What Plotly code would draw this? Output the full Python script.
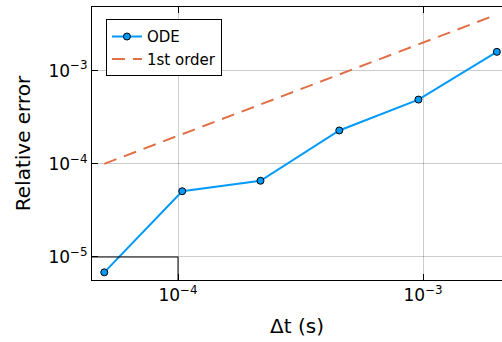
import plotly.graph_objects as go

# Data
dt = [5.0e-5, 1.04e-4, 2.17e-4, 4.55e-4, 9.57e-4, 2.0e-3]
ode_err = [6.84e-6, 5.08e-5, 6.58e-5, 2.28e-4, 4.89e-4, 1.59e-3]
first_order = [1.0e-4, 2.08e-4, 4.34e-4, 9.1e-4, 1.914e-3, 4.0e-3]

x_tickvals = [1e-4, 1e-3]
x_ticktext = ["10<sup>−4</sup>", "10<sup>−3</sup>"]
y_tickvals = [1e-5, 1e-4, 1e-3]
y_ticktext = ["10<sup>−5</sup>", "10<sup>−4</sup>", "10<sup>−3</sup>"]

x_range = [-4.351, -2.678]
y_range = [-5.247, -2.317]

FONT = "DejaVu Sans"

fig = go.Figure()
fig.add_trace(go.Scatter(
    x=dt, y=ode_err, mode="lines+markers", name="ODE",
    line=dict(color="#009AFA", width=2),
    marker=dict(size=7, color="#009AFA", line=dict(color="black", width=1)),
))
fig.add_trace(go.Scatter(
    x=dt, y=first_order, mode="lines", name="1st order",
    line=dict(color="#E26F46", width=2, dash="13px,8px"),
))

grid_col = "rgba(0,0,0,0.2)"
fig.update_xaxes(
    type="log", range=x_range, tickvals=x_tickvals, ticktext=x_ticktext,
    showgrid=True, gridcolor=grid_col, gridwidth=1,
    showline=True, linecolor="black", linewidth=1, mirror="ticks",
    ticks="inside", ticklen=6, tickcolor="black",
    tickfont=dict(family=FONT, size=17, color="black"),
    title=dict(text="Δt (s)", font=dict(family=FONT, size=20, color="black"), standoff=14),
    zeroline=False,
)
fig.update_yaxes(
    type="log", range=y_range, tickvals=y_tickvals, ticktext=y_ticktext,
    showgrid=True, gridcolor=grid_col, gridwidth=1,
    showline=True, linecolor="black", linewidth=1, mirror=False,
    ticks="inside", ticklen=6, tickcolor="black",
    tickfont=dict(family=FONT, size=17, color="black"),
    title=dict(text="Relative error", font=dict(family=FONT, size=20, color="black"), standoff=12),
    zeroline=False,
)

# dark segments along the 1e-5 / 1e-4 grid lines near the lower-left corner
fx = (-4 - x_range[0]) / (x_range[1] - x_range[0])
fy = (-5 - y_range[0]) / (y_range[1] - y_range[0])
fig.add_shape(type="line", xref="x domain", yref="y domain", x0=0, x1=fx, y0=fy, y1=fy,
              line=dict(color="black", width=1))
fig.add_shape(type="line", xref="x domain", yref="y domain", x0=fx, x1=fx, y0=0, y1=fy,
              line=dict(color="black", width=1))

fig.update_layout(
    width=502, height=342,
    margin=dict(l=92, r=0, t=7, b=62),
    plot_bgcolor="white", paper_bgcolor="white",
    font=dict(family=FONT, color="black"),
    showlegend=True,
    legend=dict(
        x=0.034, y=0.955, xanchor="left", yanchor="top",
        bgcolor="white", bordercolor="black", borderwidth=1,
        font=dict(family=FONT, size=15, color="black"),
        itemwidth=30,
    ),
)

fig.write_html("out.html")
